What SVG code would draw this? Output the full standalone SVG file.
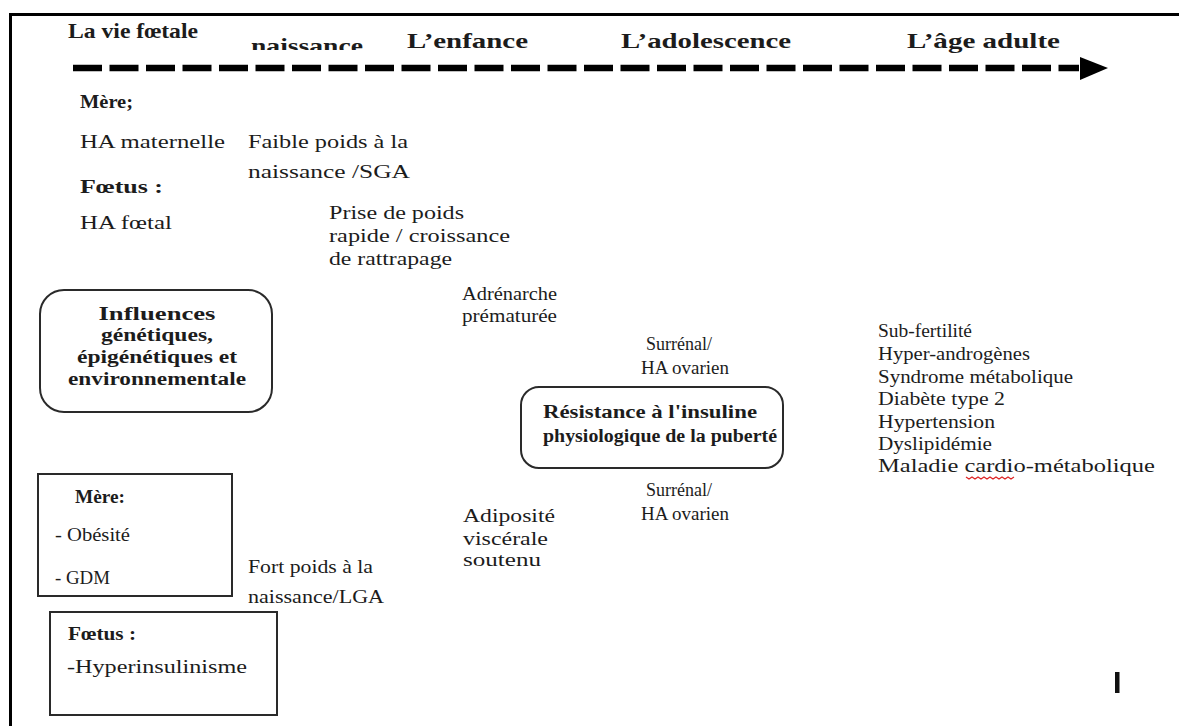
<svg xmlns="http://www.w3.org/2000/svg" width="1179" height="726" viewBox="0 0 1179 726">
<style>
text{font-family:"Liberation Serif","Times New Roman",serif;fill:#1c1c1c;font-size:18px}
.b{font-weight:bold}
.h{font-weight:bold;font-size:21px}
.box{fill:none;stroke:#2a2a2a;stroke-width:2}
.frame{stroke:#000;stroke-width:3}
</style>
<defs>
<clipPath id="clipN"><rect x="240" y="20" width="140" height="30"/></clipPath>
</defs>
<rect width="1179" height="726" fill="#fff"/>
<g id="frame">
<line class="frame" x1="9" y1="14.5" x2="1179" y2="14.5"/>
<line class="frame" x1="10.5" y1="13" x2="10.5" y2="726"/>
</g>
<g id="header">
<text class="h" x="68" y="38" font-size="18" textLength="130" lengthAdjust="spacingAndGlyphs">La vie fœtale</text>
<text class="h" x="251" y="53" textLength="112" lengthAdjust="spacingAndGlyphs" clip-path="url(#clipN)">naissance</text>
<text class="h" x="407" y="48" textLength="121" lengthAdjust="spacingAndGlyphs">L’enfance</text>
<text class="h" x="621" y="48" textLength="170" lengthAdjust="spacingAndGlyphs">L’adolescence</text>
<text class="h" x="907" y="48" textLength="153" lengthAdjust="spacingAndGlyphs">L’âge adulte</text>
</g>
<g id="connectors">
<line x1="73" y1="68" x2="1079" y2="68" stroke="#000" stroke-width="6.5" stroke-dasharray="29 7.5"/>
<polygon points="1080,57 1108,68 1080,80" fill="#000"/>
</g>
<g id="mere-top">
<text class="b" x="80" y="108" textLength="53" lengthAdjust="spacingAndGlyphs">Mère;</text>
<text x="80" y="148" textLength="145" lengthAdjust="spacingAndGlyphs">HA maternelle</text>
</g>
<g id="foetus-top">
<text class="b" x="80" y="193" textLength="83" lengthAdjust="spacingAndGlyphs">Fœtus :</text>
<text x="80" y="229" textLength="92" lengthAdjust="spacingAndGlyphs">HA fœtal</text>
</g>
<g id="faible-poids">
<text x="248" y="148" textLength="160" lengthAdjust="spacingAndGlyphs">Faible poids à la</text>
<text x="248" y="178" textLength="162" lengthAdjust="spacingAndGlyphs">naissance  /SGA</text>
</g>
<g id="prise-poids">
<text x="329" y="219" textLength="135" lengthAdjust="spacingAndGlyphs">Prise de poids</text>
<text x="329" y="242" textLength="181" lengthAdjust="spacingAndGlyphs">rapide / croissance</text>
<text x="329" y="265" textLength="123" lengthAdjust="spacingAndGlyphs">de rattrapage</text>
</g>
<g id="adrenarche">
<text x="462" y="300" textLength="95" lengthAdjust="spacingAndGlyphs">Adrénarche</text>
<text x="462" y="322" textLength="95" lengthAdjust="spacingAndGlyphs">prématurée</text>
</g>
<g id="influences">
<rect class="box" x="40" y="290" width="232" height="122" rx="24"/>
<text class="b" x="157" y="320" text-anchor="middle" textLength="117" lengthAdjust="spacingAndGlyphs">Influences</text>
<text class="b" x="157" y="341" text-anchor="middle" textLength="112" lengthAdjust="spacingAndGlyphs">génétiques,</text>
<text class="b" x="157" y="363" text-anchor="middle" textLength="160" lengthAdjust="spacingAndGlyphs">épigénétiques et</text>
<text class="b" x="157" y="385" text-anchor="middle" textLength="178" lengthAdjust="spacingAndGlyphs">environnementale</text>
</g>
<g id="surrenal-haut">
<text x="646" y="350" textLength="66" lengthAdjust="spacingAndGlyphs">Surrénal/</text>
<text x="641" y="374" textLength="88" lengthAdjust="spacingAndGlyphs">HA ovarien</text>
</g>
<g id="resistance">
<rect class="box" x="521" y="387" width="262" height="81" rx="18"/>
<text class="b" x="543" y="418" textLength="214" lengthAdjust="spacingAndGlyphs">Résistance à l'insuline</text>
<text class="b" x="543" y="442" textLength="234" lengthAdjust="spacingAndGlyphs">physiologique de la puberté</text>
</g>
<g id="surrenal-bas">
<text x="646" y="496" textLength="66" lengthAdjust="spacingAndGlyphs">Surrénal/</text>
<text x="641" y="520" textLength="88" lengthAdjust="spacingAndGlyphs">HA ovarien</text>
</g>
<g id="consequences">
<text x="878" y="337" textLength="94" lengthAdjust="spacingAndGlyphs">Sub-fertilité</text>
<text x="878" y="360" textLength="152" lengthAdjust="spacingAndGlyphs">Hyper-androgènes</text>
<text x="878" y="383" textLength="195" lengthAdjust="spacingAndGlyphs">Syndrome métabolique</text>
<text x="878" y="405" textLength="127" lengthAdjust="spacingAndGlyphs">Diabète type 2</text>
<text x="878" y="428" textLength="117" lengthAdjust="spacingAndGlyphs">Hypertension</text>
<text x="878" y="450" textLength="114" lengthAdjust="spacingAndGlyphs">Dyslipidémie</text>
<text x="878" y="472" textLength="277" lengthAdjust="spacingAndGlyphs">Maladie cardio-métabolique</text>
<path d="M966,477 l3,2 l3,-2 l3,2 l3,-2 l3,2 l3,-2 l3,2 l3,-2 l3,2 l3,-2 l3,2 l3,-2 l3,2 l3,-2 l3,2 l3,-2" fill="none" stroke="#d22" stroke-width="1.2"/>
</g>
<g id="mere-bas">
<rect class="box" x="38" y="474" width="194" height="122"/>
<text class="b" x="75" y="503" textLength="50" lengthAdjust="spacingAndGlyphs">Mère:</text>
<text x="55" y="541" textLength="75" lengthAdjust="spacingAndGlyphs">- Obésité</text>
<text x="55" y="584" textLength="55" lengthAdjust="spacingAndGlyphs">- GDM</text>
</g>
<g id="foetus-bas">
<rect class="box" x="50" y="612" width="227" height="103"/>
<text class="b" x="68" y="640" textLength="68" lengthAdjust="spacingAndGlyphs">Fœtus :</text>
<text x="67" y="673" textLength="180" lengthAdjust="spacingAndGlyphs">-Hyperinsulinisme</text>
</g>
<g id="fort-poids">
<text x="248" y="573" textLength="125" lengthAdjust="spacingAndGlyphs">Fort poids à la</text>
<text x="248" y="603" textLength="136" lengthAdjust="spacingAndGlyphs">naissance/LGA</text>
</g>
<g id="adiposite">
<text x="463" y="522" textLength="92" lengthAdjust="spacingAndGlyphs">Adiposité</text>
<text x="463" y="545" textLength="85" lengthAdjust="spacingAndGlyphs">viscérale</text>
<text x="463" y="566" textLength="78" lengthAdjust="spacingAndGlyphs">soutenu</text>
</g>
<rect id="caret" x="1115" y="672" width="4.5" height="21" fill="#111"/>
</svg>
